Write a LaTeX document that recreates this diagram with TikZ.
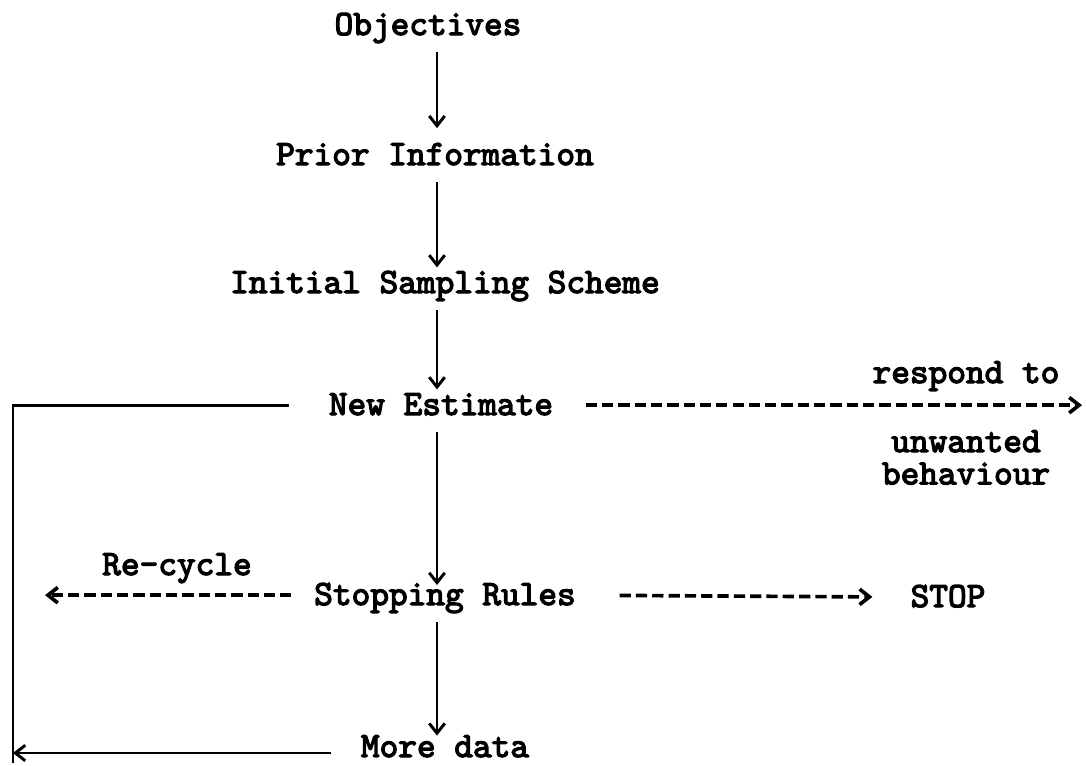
\documentclass[tikz,border=0pt]{standalone}
\usepackage{fontspec}
\newfontfamily\stagefont{lmmono10-regular.otf}[FakeBold=3.5]
\usetikzlibrary{arrows.meta}
\tikzset{
    stage/.style={font=\stagefont\fontsize{25.3}{23}\selectfont,inner sep=0pt,
        text height=14pt,text depth=0pt,anchor=base},
    note/.style={font=\stagefont\fontsize{25.3}{23}\selectfont,inner sep=0pt,
        align=center,anchor=north},
    flow/.style={-{Straight Barb[length=7pt,width=11pt]},line width=2.1pt,
        shorten <=12pt,shorten >=4pt},
    loopline/.style={line width=2.1pt},
    dashflow/.style={flow,line width=2.6pt,dash pattern=on 8pt off 3.6pt}
}
\begin{document}
\begin{tikzpicture}[x=0.025cm,y=-0.025cm]
\useasboundingbox (0,0) rectangle (1086,765);
% main column
\node[stage] (obj) at (428,35) {Objectives};
\node[stage] (prior) at (435,165) {Prior Information};
\node[stage] (init) at (445,293) {Initial Sampling Scheme};
\node[stage] (est) at (441,415) {New Estimate};
\node[stage] (stop) at (445,605) {Stopping Rules};
\node[stage] (more) at (445,757) {More data};
\coordinate (spine) at (437,0);
\draw[flow,shorten >=12pt] (obj.south -| spine) -- (prior.north -| spine);
\draw[flow] (prior.south -| spine) -- (init.north -| spine);
\draw[flow] (init.south -| spine) -- (est.north -| spine);
\draw[flow,shorten >=0pt] (est.south -| spine) -- (stop.north -| spine);
\draw[flow,shorten >=1pt] (stop.south -| spine) -- (more.north -| spine);
% feedback loop on the left
\coordinate (lt) at (13,403);
\coordinate (lb) at (13,753);
\coordinate (lend) at (13,763);
\draw[loopline,shorten <=28pt] (est.west) -- (est.west -| lt) -- (lend);
\draw[flow,shorten <=21pt,shorten >=0pt] (more.west |- lb) -- (lb);
% side branches
\node[stage] (halt) at (948,607) {STOP};
\coordinate (respend) at (1082,0);
\coordinate (recyc) at (45,0);
\draw[dashflow,shorten <=23pt,shorten >=0pt] (est.east) -- (est.east -| respend);
\draw[dashflow,shorten <=16pt,shorten >=0pt] (stop.west) -- (stop.west -| recyc);
\draw[dashflow,shorten <=31pt,shorten >=27pt] (stop.east) -- (halt.west);
\node[stage] (recycle) at (177,575) {Re-cycle};
\node[stage] (respond) at (966,383) {respond to};
\node[note] (unwanted) at (966,430) {unwanted\\behaviour};
\end{tikzpicture}
\end{document}
